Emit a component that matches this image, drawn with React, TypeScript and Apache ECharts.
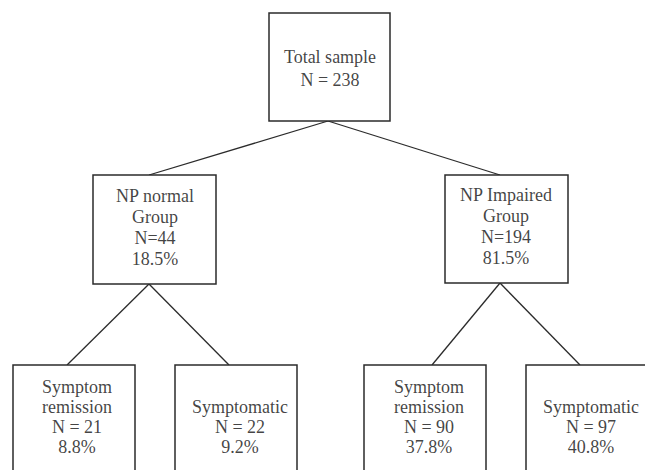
import React, { useEffect, useRef } from "react";
import * as echarts from "echarts";

// ---- data ----
const nodeTitles = [
  "Total sample",
  "NP normal\nGroup",
  "NP Impaired\nGroup",
  "Symptom\nremission",
  "Symptomatic",
  "Symptom\nremission",
  "Symptomatic",
];
const nodeCounts = [238, 44, 194, 21, 22, 90, 97];
const nodePercents: (number | null)[] = [null, 18.5, 81.5, 8.8, 9.2, 37.8, 40.8];
const nodeParents = [-1, 0, 0, 1, 1, 2, 2];
const countSeparators = [" = ", "=", "=", " = ", " = ", " = ", " = "];

// ---- layout (pixel space of the 645x470 canvas) ----
const boxLeft = [269, 93, 445, 13, 175, 364, 526];
const boxRight = [390, 216, 568, 135, 297, 486, 662];
const boxTop = [13, 175, 175, 365, 365, 365, 365];
const boxBottom = [121, 284, 283, 490, 490, 490, 490];
const anchorX = [328, 149, 500, 67, 229, 432, 580];
const textX = [330, 155, 506, 77, 240, 429, 591];
const textCenterY = [68.5, 227, 226, 417, 427, 417, 427];
const textLineHeight = [23, 21, 21, 20, 20, 20, 20];

const FONT_FAMILY = "'Times New Roman', Tinos, 'Nimbus Roman', FreeSerif, 'DejaVu Serif'";
const TEXT_COLOR = "#111111";
const LINE_COLOR = "#2b2b2b";

function nodeLabel(i: number): string {
  const parts = [nodeTitles[i], "N" + countSeparators[i] + nodeCounts[i]];
  const p = nodePercents[i];
  if (p !== null) parts.push(p.toFixed(1) + "%");
  return parts.join("\n");
}

export default function App() {
  const ref = useRef<HTMLDivElement>(null);

  useEffect(() => {
    if (!ref.current) return;
    const chart = echarts.init(ref.current, undefined, { renderer: "svg" });

    const edgeData = nodeParents
      .map((p, c) => (p >= 0 ? [p, c] : null))
      .filter((d) => d !== null) as number[][];

    const nodeData = nodeTitles.map((_, i) => [i]);

    chart.setOption({
      animation: false,
      backgroundColor: "#ffffff",
      grid: { left: 0, right: 0, top: 0, bottom: 0 },
      xAxis: { type: "value", min: 0, max: 645, show: false },
      yAxis: { type: "value", min: 0, max: 470, inverse: true, show: false },
      series: [
        {
          type: "custom",
          coordinateSystem: "cartesian2d",
          data: edgeData,
          silent: true,
          z: 1,
          renderItem: (params: any, api: any) => {
            const p = api.value(0);
            const c = api.value(1);
            const a = api.coord([anchorX[p], boxBottom[p]]);
            const b = api.coord([anchorX[c], boxTop[c]]);
            return {
              type: "line",
              shape: { x1: a[0], y1: a[1], x2: b[0], y2: b[1] },
              style: { stroke: LINE_COLOR, lineWidth: 1.3 },
            };
          },
        },
        {
          type: "custom",
          coordinateSystem: "cartesian2d",
          data: nodeData,
          silent: true,
          z: 2,
          renderItem: (params: any, api: any) => {
            const i = api.value(0);
            const tl = api.coord([boxLeft[i], boxTop[i]]);
            const br = api.coord([boxRight[i], boxBottom[i]]);
            return {
              type: "rect",
              shape: {
                x: tl[0],
                y: tl[1],
                width: br[0] - tl[0],
                height: br[1] - tl[1],
              },
              style: { fill: "#ffffff", stroke: LINE_COLOR, lineWidth: 1.5 },
            };
          },
        },
        {
          type: "scatter",
          data: nodeTitles.map((_, i) => ({
            value: [textX[i], textCenterY[i]],
            label: { lineHeight: textLineHeight[i] },
          })),
          symbolSize: 0,
          silent: true,
          z: 3,
          label: {
            show: true,
            position: "inside",
            formatter: (p: any) => nodeLabel(p.dataIndex),
            fontFamily: FONT_FAMILY,
            fontSize: 18,
            color: TEXT_COLOR,
            align: "center",
            verticalAlign: "middle",
          },
        },
      ],
    });

    return () => chart.dispose();
  }, []);

  return (
    <div
      ref={ref}
      style={{ position: "absolute", left: 0, top: 0, width: 645, height: 470 }}
    />
  );
}
